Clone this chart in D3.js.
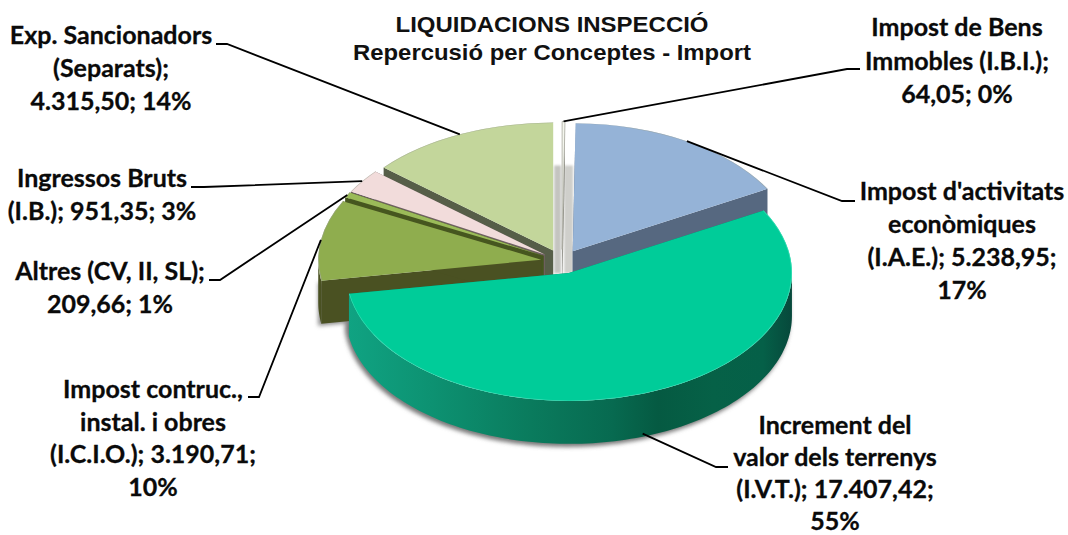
<!DOCTYPE html>
<html>
<head>
<meta charset="utf-8">
<script src="https://cdn.jsdelivr.net/npm/d3@7"></script>
<style>
  html, body { margin: 0; padding: 0; background: #fff; }
  svg { display: block; }
  .label { font-family: Lato, sans-serif; font-weight: 700; font-size: 25px; fill: #0a0a0a; stroke: #0a0a0a; stroke-width: 0.3; text-anchor: middle; }
  .title { font-family: "Liberation Sans", Arial, sans-serif; font-weight: 700; fill: #111; text-anchor: middle; }
  .leader { fill: none; stroke: #000; stroke-width: 1.8; }
</style>
</head>
<body>
<svg id="chart" width="1068" height="535"></svg>
<script>
// values, clockwise from 12 o'clock
const categories = ['IBI', 'IAE', 'IVT', 'ICIO', 'Altres', 'IB', 'Exp'];
const values = [64.05, 5238.95, 17407.42, 3190.71, 209.66, 951.35, 4315.50];
const labels = [
    ['Impost de Bens', 'Immobles (I.B.I.);', '64,05; 0%'],
    ["Impost d'activitats", 'econòmiques', '(I.A.E.); 5.238,95;', '17%'],
    ['Increment del', 'valor dels terrenys', '(I.V.T.); 17.407,42;', '55%'],
    ['Impost contruc.,', 'instal. i obres', '(I.C.I.O.); 3.190,71;', '10%'],
    ['Altres (CV, II, SL);', '209,66; 1%'],
    ['Ingressos Bruts', '(I.B.); 951,35; 3%'],
    ['Exp. Sancionadors', '(Separats);', '4.315,50; 14%']
];
const titleLines = ['LIQUIDACIONS INSPECCIÓ', 'Repercusió per Conceptes - Import'];

const topColors = ['#f4f6ee', '#95b3d7', '#00cc99', '#8fad4e', '#9bbb59', '#f2dcdb', '#c3d69b'];
const wallColors = ['#8c8c84', '#566880', '#0a7c5e', '#4a5122', '#46561f', '#6e6060', '#565e48'];

// label anchor: centre x, first baseline, and the elbow of the leader line
const labelX = [957, 962, 835, 153, 110, 102, 111];
const labelY = [36, 200, 434, 398, 280, 187, 44];
const lineHeights = [33.5, 33, 32, 32.5, 33, 33, 33];
const elbows = [[[860, 69], [847, 69]], [[855, 201], [842, 201]], [[728, 467], [716, 467]],
    [[248, 397], [259, 397]], [[209, 280], [220, 280]], [[191, 187], [204, 187]], [[216, 44], [227, 44]]];
// title: baseline and stretched width of each line
const titleY = [32, 60];
const titleW = [313, 398];

const cx = 562, cy = 261.5, rx = 223, ry = 128, depth = 43, explode = 21;
const k = ry / rx;

const svg = d3.select('#chart');
const defs = svg.append('defs');

const wallGrad = defs.append('linearGradient')
    .attr('id', 'tealWall')
    .attr('gradientUnits', 'userSpaceOnUse')
    .attr('x1', cx - rx).attr('x2', cx + rx + 10).attr('y1', 0).attr('y2', 0);
[[0, '#10a584'], [0.2, '#0d9272'], [0.42, '#0a7b5d'], [0.6, '#076a50'], [0.7, '#055a42'],
    [0.82, '#066147'], [0.93, '#056048'], [1, '#07463a']].forEach(s => {
    wallGrad.append('stop').attr('offset', s[0]).attr('stop-color', s[1]);
});

const shadow = defs.append('filter').attr('id', 'soft')
    .attr('x', '-10%').attr('y', '-10%').attr('width', '120%').attr('height', '130%');
shadow.append('feGaussianBlur').attr('stdDeviation', 2);

const blur = defs.append('filter').attr('id', 'gapBlur')
    .attr('x', '-50%').attr('y', '-10%').attr('width', '200%').attr('height', '120%');
blur.append('feGaussianBlur').attr('stdDeviation', 1.2);

const slices = d3.pie().sort(null).value(d => d)(values).map((d, i) => {
    const mid = (d.startAngle + d.endAngle) / 2;
    d.i = i;
    d.mid = mid;
    d.ox = cx + explode * Math.sin(mid);
    d.oy = cy - explode * k * Math.cos(mid);
    return d;
});

const arc = d3.arc().innerRadius(0).outerRadius(rx);
const line = d3.line();

function pt(d, a, dy) {
    return [d.ox + rx * Math.sin(a), d.oy - ry * Math.cos(a) + (dy || 0)];
}

function wallPath(d, a0, a1) {
    const n = Math.max(2, Math.ceil((a1 - a0) * 40));
    const angles = d3.range(n + 1).map(j => a0 + (a1 - a0) * j / n);
    const top = angles.map(a => pt(d, a, 0));
    const bottom = angles.slice().reverse().map(a => pt(d, a, depth));
    return line(top.concat(bottom)) + 'Z';
}

function facePath(d, a) {
    const p = pt(d, a, 0);
    return line([[d.ox, d.oy], p, [p[0], p[1] + depth], [d.ox, d.oy + depth]]) + 'Z';
}

const teal = slices[2], olive = slices[3], sliver = slices[0];

// soft ground shadow under the front of the pie
svg.append('path')
    .attr('d', wallPath(teal, Math.PI / 2, 3 * Math.PI / 2 - 0.1))
    .attr('transform', 'translate(-2,3)')
    .attr('fill', '#777')
    .attr('filter', 'url(#soft)');
svg.append('path')
    .attr('d', facePath(olive, olive.startAngle))
    .attr('transform', 'translate(-3,2)')
    .attr('fill', '#888')
    .attr('filter', 'url(#soft)');

// grey shading seen through the gaps next to the thin slice
[[-8, 7, '#c4c4c0'], [2, 9, '#cfcfcb']].forEach(g => {
    svg.append('rect')
        .attr('x', sliver.ox + g[0]).attr('width', g[1])
        .attr('y', sliver.oy - ry + 44).attr('height', ry - 20)
        .attr('fill', g[2])
        .attr('filter', 'url(#gapBlur)');
});

// back to front
const drawOrder = [6, 0, 1, 5, 4, 3, 2];
const pie = svg.append('g');
drawOrder.forEach(i => {
    const d = slices[i];
    pie.append('path').attr('d', facePath(d, d.startAngle)).attr('fill', wallColors[i]);
    pie.append('path').attr('d', facePath(d, d.endAngle)).attr('fill', wallColors[i]);
    // outer wall only shows on the lower half of the ellipse
    const a0 = Math.max(d.startAngle, Math.PI / 2);
    const a1 = Math.min(d.endAngle, 3 * Math.PI / 2);
    if (a1 > a0) {
        pie.append('path').attr('d', wallPath(d, a0, a1))
            .attr('fill', i === 2 ? 'url(#tealWall)' : wallColors[i]);
    }
    pie.append('path')
        .attr('d', arc(d))
        .attr('transform', `translate(${d.ox},${d.oy}) scale(1,${k})`)
        .attr('fill', topColors[i])
        .attr('stroke', i === 0 ? '#a8a8a0' : 'none')
        .attr('stroke-width', 1);
    // thin pale rim on the teal top, grey one on the back slices
    const rim = d3.arc().innerRadius(rx - 0.8).outerRadius(rx);
    pie.append('path')
        .attr('d', rim(d))
        .attr('transform', `translate(${d.ox},${d.oy}) scale(1,${k})`)
        .attr('fill', i === 2 ? '#3fe0b8' : '#9a9f90')
        .attr('opacity', i === 2 ? 0.8 : 0.6);
});

// leader lines, from the label elbow to the middle of the slice's edge
slices.forEach((d, i) => {
    const end = pt(d, d.mid, i === 2 ? depth - 3 : 0);
    svg.append('path')
        .attr('class', 'leader')
        .attr('d', line(elbows[i].concat([end])));
});

labels.forEach((lines, i) => {
    const t = svg.append('text').attr('class', 'label');
    lines.forEach((s, j) => {
        t.append('tspan')
            .attr('x', labelX[i])
            .attr('y', labelY[i] + j * lineHeights[i])
            .text(s);
    });
});

titleLines.forEach((s, i) => {
    svg.append('text').attr('class', 'title')
        .attr('x', 552)
        .attr('y', titleY[i])
        .attr('textLength', titleW[i])
        .attr('lengthAdjust', 'spacingAndGlyphs')
        .style('font-size', '22px')
        .text(s);
});
</script>
</body>
</html>
